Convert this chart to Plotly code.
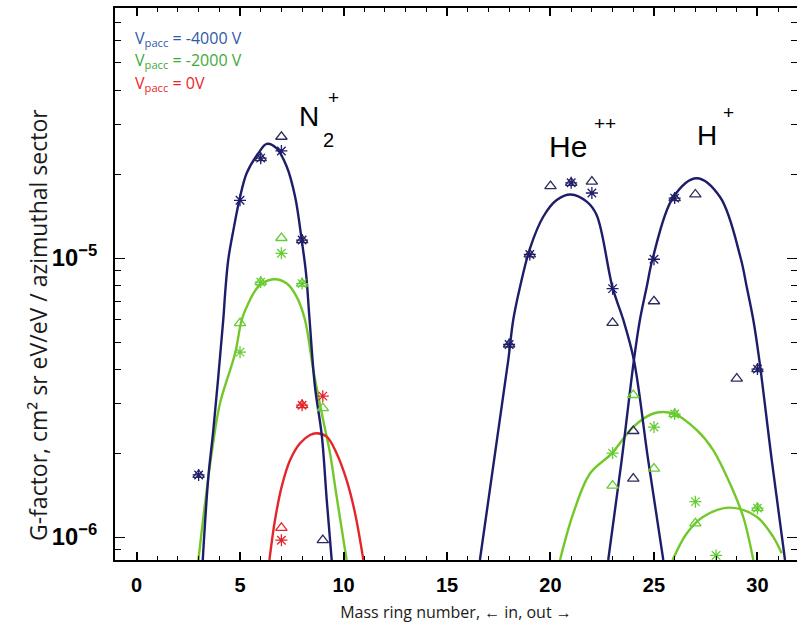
import plotly.graph_objects as go

# ---------------- data ----------------
# -4000 V  (navy)
blue_tri_x = [3, 6, 7, 8, 9, 18, 19, 20, 21, 22, 23, 24, 24, 25, 26, 27, 29, 30]
blue_tri_y = [1.67e-6, 2.28e-5, 2.72e-5, 1.16e-5, 9.75e-7, 4.9e-6, 1.03e-5, 1.81e-5,
              1.86e-5, 1.88e-5, 5.86e-6, 2.4e-6, 1.62e-6, 7.0e-6, 1.64e-5, 1.69e-5,
              3.7e-6, 4.0e-6]
blue_ast_x = [3, 5, 6, 7, 8, 18, 19, 21, 22, 23, 25, 26, 30]
blue_ast_y = [1.67e-6, 1.61e-5, 2.28e-5, 2.42e-5, 1.16e-5, 4.9e-6, 1.03e-5, 1.86e-5,
              1.71e-5, 7.77e-6, 9.9e-6, 1.64e-5, 4.0e-6]

# -2000 V  (green)
green_tri_x = [5, 6, 7, 8, 9, 23, 24, 25, 26, 27, 30]
green_tri_y = [5.85e-6, 8.2e-6, 1.18e-5, 8.1e-6, 2.9e-6, 1.53e-6, 3.23e-6, 1.76e-6,
               2.76e-6, 1.12e-6, 1.27e-6]
green_ast_x = [5, 6, 7, 8, 23, 25, 26, 27, 28, 30]
green_ast_y = [4.6e-6, 8.2e-6, 1.04e-5, 8.1e-6, 2.0e-6, 2.48e-6, 2.76e-6, 1.34e-6,
               8.6e-7, 1.27e-6]

# 0 V  (red)
red_tri_x = [7, 8]
red_tri_y = [1.08e-6, 2.97e-6]
red_ast_x = [7, 8, 9]
red_ast_y = [9.75e-7, 2.97e-6, 3.2e-6]

# fitted curves, points
fit_n2_blue_x = [3.20, 3.47, 3.71, 4.19, 4.28, 4.43, 4.68, 4.97, 5.32, 5.88, 6.29,
                 6.77, 7.26, 7.66, 7.98, 8.19, 8.35, 8.62, 8.95, 9.19, 9.43]
fit_n2_blue_y = [8.28e-7, 1.644e-6, 2.42e-6, 6.0e-6, 7.46e-6, 9.84e-6, 1.259e-5,
                 1.614e-5, 2.014e-5, 2.371e-5, 2.564e-5, 2.472e-5, 2.123e-5, 1.66e-5,
                 1.161e-5, 8.81e-6, 6.17e-6, 3.46e-6, 2.32e-6, 1.358e-6, 8.28e-7]
fit_he_blue_x = [16.59, 17.96, 18.20, 18.53, 19.01, 19.65, 20.30, 20.98, 21.75, 22.23,
                 23.00, 23.52, 24.03, 24.72, 25.45]
fit_he_blue_y = [8.28e-7, 4.31e-6, 6.0e-6, 7.89e-6, 1.084e-5, 1.406e-5, 1.614e-5,
                 1.69e-5, 1.592e-5, 1.426e-5, 7.83e-6, 6.0e-6, 4.31e-6, 1.888e-6, 8.28e-7]
fit_h_blue_x = [22.79, 23.44, 24.03, 24.32, 24.65, 24.94, 25.93, 27.06, 28.20, 29.19,
                29.48, 29.80, 30.09, 30.69, 31.33]
fit_h_blue_y = [8.28e-7, 1.888e-6, 4.31e-6, 6.0e-6, 7.89e-6, 9.98e-6, 1.652e-5,
                1.932e-5, 1.652e-5, 9.98e-6, 7.89e-6, 6.0e-6, 4.31e-6, 1.888e-6, 8.28e-7]

fit_n2_green_x = [2.99, 3.31, 3.63, 4.03, 4.76, 5.08, 5.32, 5.88, 6.61, 7.26, 7.74,
                  8.14, 8.54, 9.02, 9.35, 9.67, 10.15]
fit_n2_green_y = [8.28e-7, 1.321e-6, 1.995e-6, 3.01e-6, 4.55e-6, 6.0e-6, 6.68e-6,
                  7.89e-6, 8.39e-6, 8.11e-6, 7.26e-6, 6.0e-6, 3.97e-6, 2.62e-6,
                  1.995e-6, 1.393e-6, 8.28e-7]
fit_he_green_x = [20.46, 21.10, 21.91, 22.96, 24.00, 24.97, 26.01, 27.06, 27.86, 28.67,
                  29.31, 29.80]
fit_he_green_y = [8.28e-7, 1.216e-6, 1.69e-6, 1.995e-6, 2.483e-6, 2.773e-6, 2.761e-6,
                  2.421e-6, 2.051e-6, 1.556e-6, 1.183e-6, 8.28e-7]
fit_h_green_x = [25.90, 26.58, 27.38, 28.67, 29.96, 30.76, 31.17]
fit_h_green_y = [8.28e-7, 1.03e-6, 1.183e-6, 1.276e-6, 1.183e-6, 1.002e-6, 8.75e-7]

fit_n2_red_x = [6.42, 6.69, 7.01, 7.42, 7.90, 8.38, 8.71, 9.19, 9.67, 10.15, 10.56, 10.96]
fit_n2_red_y = [8.28e-7, 1.151e-6, 1.514e-6, 1.888e-6, 2.168e-6, 2.323e-6, 2.355e-6,
                2.291e-6, 1.995e-6, 1.6e-6, 1.216e-6, 8.28e-7]

legend_labels = ["-4000 V", "-2000 V", "0V"]

# ---------------- styles ----------------
NAVY = "#1d1d6b"
NAVY_TRI = "#2c2c5c"
GREEN = "#72c828"
GREEN_MK = "#66cc33"
RED = "#e3262b"
LEG_BLUE = "#2f5aa6"
LEG_GREEN = "#3fa83a"
LEG_RED = "#e8262a"

fig = go.Figure()


def curve(x, y, color, width=2.4):
    fig.add_trace(go.Scatter(x=x, y=y, mode="lines",
                             line=dict(color=color, width=width, shape="spline", smoothing=1.0),
                             showlegend=False, hoverinfo="skip"))


def pts(x, y, color, symbol, size=10, lw=1.3):
    fig.add_trace(go.Scatter(x=x, y=y, mode="markers",
                             marker=dict(symbol=symbol, size=size, color=color,
                                         line=dict(color=color, width=lw)),
                             showlegend=False, cliponaxis=True))


curve(fit_n2_green_x, fit_n2_green_y, GREEN)
curve(fit_he_green_x, fit_he_green_y, GREEN)
curve(fit_h_green_x, fit_h_green_y, GREEN)
curve(fit_n2_red_x, fit_n2_red_y, RED)
curve(fit_n2_blue_x, fit_n2_blue_y, NAVY)
curve(fit_he_blue_x, fit_he_blue_y, NAVY)
curve(fit_h_blue_x, fit_h_blue_y, NAVY)

pts(green_tri_x, green_tri_y, GREEN_MK, "triangle-up-open", 10, 1.3)
pts(green_ast_x, green_ast_y, GREEN_MK, "asterisk-open", 10, 1.3)
pts(red_tri_x, red_tri_y, RED, "triangle-up-open", 10, 1.3)
pts(red_ast_x, red_ast_y, RED, "asterisk-open", 10, 1.3)
pts(blue_tri_x, blue_tri_y, NAVY_TRI, "triangle-up-open", 10, 1.3)
pts(blue_ast_x, blue_ast_y, NAVY, "asterisk-open", 10, 1.3)

# dummy traces for the mirrored tick axes (right and top)
fig.add_trace(go.Scatter(x=[None], y=[None], yaxis="y2", showlegend=False, hoverinfo="skip"))
fig.add_trace(go.Scatter(x=[None], y=[None], xaxis="x2", showlegend=False, hoverinfo="skip"))

YR = [-6.082, -4.104]
XR = [-1.04, 31.91]

fig.update_layout(
    width=797, height=635,
    margin=dict(l=115, r=0, t=8, b=75),
    paper_bgcolor="white", plot_bgcolor="white",
    showlegend=False,
    xaxis=dict(range=XR, showgrid=False, zeroline=False, showline=True, linecolor="black",
               linewidth=2, mirror=True, ticks="inside", ticklen=8, tickwidth=1.5,
               tickcolor="black", tick0=0, dtick=5,
               minor=dict(ticks="inside", ticklen=4, tickwidth=1, dtick=1, tickcolor="black"),
               tickfont=dict(family="Liberation Sans", size=20, color="black", weight="bold"),
               ticklabelstandoff=6,
               title=dict(text="Mass ring number, ← in, out →",
                          font=dict(family="Open Sans", size=16, color="#1a1a1a"), standoff=12)),
    xaxis2=dict(range=XR, overlaying="x", side="top", anchor="y", showgrid=False,
                zeroline=False, showline=False, ticks="inside", ticklen=8, tickwidth=1.5,
                tickcolor="black", tick0=0, dtick=5, showticklabels=False,
                minor=dict(ticks="inside", ticklen=4, tickwidth=1, dtick=1, tickcolor="black")),
    yaxis=dict(type="log", range=YR, showgrid=False, zeroline=False, showline=True,
               linecolor="black", linewidth=2, mirror=False, ticks="inside", ticklen=10,
               tickwidth=1.2, tickcolor="black", dtick=1, exponentformat="power",
               minor=dict(ticks="inside", ticklen=6, tickwidth=1, tickcolor="black"),
               tickfont=dict(family="Liberation Sans", size=19, color="black", weight="bold"),
               ticklabelstandoff=12),
    yaxis2=dict(type="log", range=YR, overlaying="y", side="right", anchor="x",
                showgrid=False, zeroline=False, showline=False, ticks="inside", ticklen=10,
                tickwidth=1.2, tickcolor="black", dtick=1, showticklabels=False,
                minor=dict(ticks="inside", ticklen=6, tickwidth=1, tickcolor="black")),
)

ann = []
# y-axis title
ann.append(dict(xref="paper", yref="paper", x=-0.112, y=0.425, showarrow=False, textangle=-90,
                text="G-factor, cm² sr eV/eV / azimuthal sector",
                font=dict(family="Open Sans", size=23, color="#1a1a1a"),
                xanchor="center", yanchor="middle"))
# legend text
for lab_txt, col, ypx in zip(legend_labels, [LEG_BLUE, LEG_GREEN, LEG_RED], [38, 61, 84]):
    ann.append(dict(xref="paper", yref="paper", x=(133 - 115) / 682, y=(560 - ypx) / 552,
                    xanchor="left", yanchor="middle", showarrow=False,
                    text=f"V<sub>pacc</sub> = {lab_txt}",
                    font=dict(family="Open Sans", size=16, color=col)))


# species labels (main glyphs plus separately placed super/subscripts)
def lab(px, py, text, size):
    ann.append(dict(xref="x", yref="paper", x=(px - 136.5) / 20.7, y=(560 - py) / 552,
                    showarrow=False, text=text,
                    font=dict(family="Liberation Sans", size=size, color="black")))


lab(309, 99, "N", 28)
lab(333, 85, "+", 19)
lab(328, 127, "2", 20)
lab(568, 128, "He", 30)
lab(605, 111, "++", 19)
lab(707, 118, "H", 28)
lab(729, 100, "+", 19)

fig.update_layout(annotations=ann)

fig.write_html("out.html")
